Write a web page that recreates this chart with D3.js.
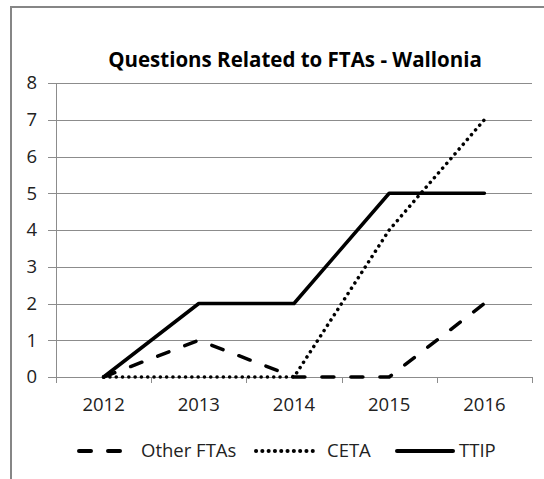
<!DOCTYPE html>
<html>
<head>
<meta charset="utf-8">
<script src="https://cdn.jsdelivr.net/npm/d3@7"></script>
<style>
  body { margin: 0; background: #fff; }
  text { font-family: "Open Sans", sans-serif; fill: #222; }
</style>
</head>
<body>
<div id="chart"></div>
<script>
// Questions Related to FTAs - Wallonia

var years = ["2012", "2013", "2014", "2015", "2016"];
var otherFTAs = [0, 1, 0, 0, 2];
var ceta = [0, 0, 0, 4, 7];
var ttip = [0, 2, 2, 5, 5];
var yTicks = [0, 1, 2, 3, 4, 5, 6, 7, 8];

var seriesNames = ["Other FTAs", "CETA", "TTIP"];
var seriesValues = [otherFTAs, ceta, ttip];
var seriesDash = ["12,17", "0.1,6.2", null];

var svgWidth = 544;
var svgHeight = 479;

var margin = { top: 83, right: 12, bottom: 102, left: 56 };
var width = svgWidth - margin.left - margin.right;
var height = svgHeight - margin.top - margin.bottom;

var svg = d3.select("#chart")
  .append("svg")
  .attr("width", svgWidth)
  .attr("height", svgHeight);

// outer chart border (runs off the picture on right and bottom)
svg.append("rect")
  .attr("x", 11)
  .attr("y", 7)
  .attr("width", 600)
  .attr("height", 600)
  .attr("fill", "none")
  .attr("stroke", "#868686")
  .attr("stroke-width", 2);

svg.append("text")
  .attr("x", 295)
  .attr("y", 67)
  .attr("text-anchor", "middle")
  .style("font-weight", "bold")
  .style("font-size", "20.5px")
  .style("fill", "#000")
  .text("Questions Related to FTAs - Wallonia");

var chartGroup = svg.append("g")
  .attr("transform", `translate(${margin.left}, ${margin.top})`);

var xScale = d3.scaleBand()
  .domain(years)
  .range([0, width]);

var yScale = d3.scaleLinear()
  .domain([0, 8])
  .range([height, 0]);

// gridlines
chartGroup.append("g")
  .selectAll("line")
  .data(yTicks)
  .enter()
  .append("line")
  .attr("x1", -8)
  .attr("x2", width)
  .attr("y1", d => Math.round(yScale(d)) + 0.5)
  .attr("y2", d => Math.round(yScale(d)) + 0.5)
  .attr("stroke", "#8c8c8c")
  .attr("stroke-width", 1);

// y axis line
chartGroup.append("line")
  .attr("x1", 0.5).attr("x2", 0.5)
  .attr("y1", 0).attr("y2", height)
  .attr("stroke", "#8c8c8c");

// x tick marks between categories
var edges = years.map(d => xScale(d)).concat([width]);
chartGroup.append("g")
  .selectAll("line")
  .data(edges)
  .enter()
  .append("line")
  .attr("x1", d => Math.round(d) + 0.5)
  .attr("x2", d => Math.round(d) + 0.5)
  .attr("y1", height)
  .attr("y2", height + 6)
  .attr("stroke", "#8c8c8c");

// y labels
chartGroup.append("g")
  .selectAll("text")
  .data(yTicks)
  .enter()
  .append("text")
  .attr("x", -19)
  .attr("y", d => yScale(d))
  .attr("dy", "0.35em")
  .attr("text-anchor", "end")
  .style("font-size", "18.5px")
  .text(d => d);

// x labels
chartGroup.append("g")
  .selectAll("text")
  .data(years)
  .enter()
  .append("text")
  .attr("x", d => xScale(d) + xScale.bandwidth() / 2)
  .attr("y", height + 28)
  .attr("dy", "0.35em")
  .attr("text-anchor", "middle")
  .style("font-size", "18.5px")
  .text(d => d);

// lines
var line = d3.line()
  .x((d, i) => xScale(years[i]) + xScale.bandwidth() / 2)
  .y(d => yScale(d));

seriesValues.forEach(function(vals, k) {
  chartGroup.append("path")
    .datum(vals)
    .attr("d", line)
    .attr("fill", "none")
    .attr("stroke", "#000")
    .attr("stroke-width", 3.5)
    .attr("stroke-linecap", "round")
    .attr("stroke-linejoin", "round")
    .attr("stroke-dasharray", seriesDash[k]);
});

// legend
var legendItems = [
  { x0: 79, x1: 127, tx: 141 },
  { x0: 256, x1: 316, tx: 327 },
  { x0: 397, x1: 453, tx: 459 }
];
var legend = svg.append("g");
seriesNames.forEach(function(name, k) {
  var it = legendItems[k];
  legend.append("line")
    .attr("x1", it.x0).attr("x2", it.x1)
    .attr("y1", 451).attr("y2", 451)
    .attr("stroke", "#000")
    .attr("stroke-width", 4)
    .attr("stroke-linecap", "round")
    .attr("stroke-dasharray", seriesDash[k]);
  legend.append("text")
    .attr("x", it.tx)
    .attr("y", 451)
    .attr("dy", "0.35em")
    .style("font-size", "18.5px")
    .text(name);
});
</script>
</body>
</html>
